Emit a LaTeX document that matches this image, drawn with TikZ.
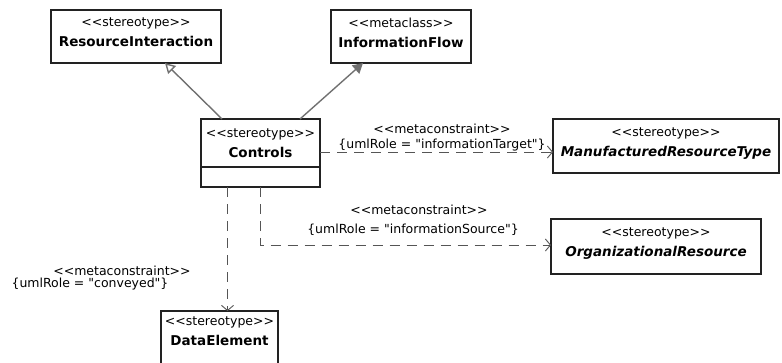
\documentclass[tikz,border=0pt]{standalone}
\usepackage{fontspec}
\setmainfont{DejaVu Sans}[Ligatures=TeXOff]
\usetikzlibrary{positioning,arrows.meta}
\definecolor{frame}{HTML}{222222}
\definecolor{edge}{HTML}{707070}
\definecolor{dashc}{HTML}{555555}
\newcommand{\stereo}[1]{<<#1>>}
\newcommand{\clsname}[2][8pt]{{\fontsize{13.5}{20}\selectfont\bfseries #2\rule[-#1]{0pt}{#1}}}

\begin{document}
\begin{tikzpicture}[x=1pt,y=-1pt,
  cls/.style={draw=frame, line width=1.2pt, fill=white, align=center, inner sep=0pt,
    outer sep=0pt, font=\fontsize{12.5}{20}\selectfont},
  gen/.style={draw=edge, line width=1.4pt, -{Triangle[open,length=10pt,width=11pt]}},
  flow/.style={draw=edge, line width=1.4pt, -{Triangle[length=10pt,width=11pt]}},
  dep/.style={draw=dashc, line width=0.9pt, dash pattern=on 10pt off 7pt,
    -{Straight Barb[length=5pt,width=12pt]}},
  lbl/.style={font=\fontsize{12.5}{15}\selectfont, inner sep=0pt}
]
  \useasboundingbox (0,0) rectangle (782,362);

  % --- classes ---
  \node[cls, minimum width=170, minimum height=53] (ri) at (136,36.5)
    {\stereo{stereotype}\\\clsname{ResourceInteraction}};
  \node[cls, minimum width=140, minimum height=53] (inf) at (401,36.5)
    {\stereo{metaclass}\\\clsname{InformationFlow}};
  \node[cls, minimum width=119, minimum height=48] (ctl) at (260.5,143)
    {\stereo{stereotype}\\\clsname[0pt]{Controls}};
  \node[cls, minimum width=119, minimum height=20, anchor=north] (ctlattr) at (ctl.south) {};
  \node[cls, minimum width=226, minimum height=54] (mrt) at (666,146)
    {\stereo{stereotype}\\\clsname{\itshape ManufacturedResourceType}};
  \node[cls, minimum width=210, minimum height=55] (org) at (656,246.5)
    {\stereo{stereotype}\\\clsname{\itshape OrganizationalResource}};
  \node[cls, minimum width=117, minimum height=54] (dat) at (219.5,338)
    {\stereo{stereotype}\\\clsname[14pt]{DataElement}};

  % --- generalization / metaclass ---
  \draw[gen] ([xshift=21pt]ctl.north west) -- ([xshift=29pt]ri.south);
  \draw[flow] ([xshift=99pt]ctl.north west) -- ([xshift=-38pt]inf.south);

  % --- metaconstraints ---
  \node[lbl] (tgtst) at (442,129) {\stereo{metaconstraint}};
  \node[lbl] (tgtrole) at (442,145) {\{umlRole = "informationTarget"\}};
  \draw[dep] ([yshift=-9pt]ctl.east) -- ([yshift=-9pt]ctl.east -| mrt.west);

  \node[lbl] (srcst) at (419,210) {\stereo{metaconstraint}};
  \node[lbl] (srcrole) at (413,230) {\{umlRole = "informationSource"\}};
  \draw[dep] (ctlattr.south) |- ([yshift=1.5pt]org.west);

  \node[lbl] (cvyst) at (122,270.5) {\stereo{metaconstraint}};
  \node[lbl] (cvyrole) at (90,284.5) {\{umlRole = "conveyed"\}};
  \draw[dep] ([xshift=-33pt]ctlattr.south) -- ([xshift=-33pt]ctlattr.south |- dat.north);
\end{tikzpicture}
\end{document}
